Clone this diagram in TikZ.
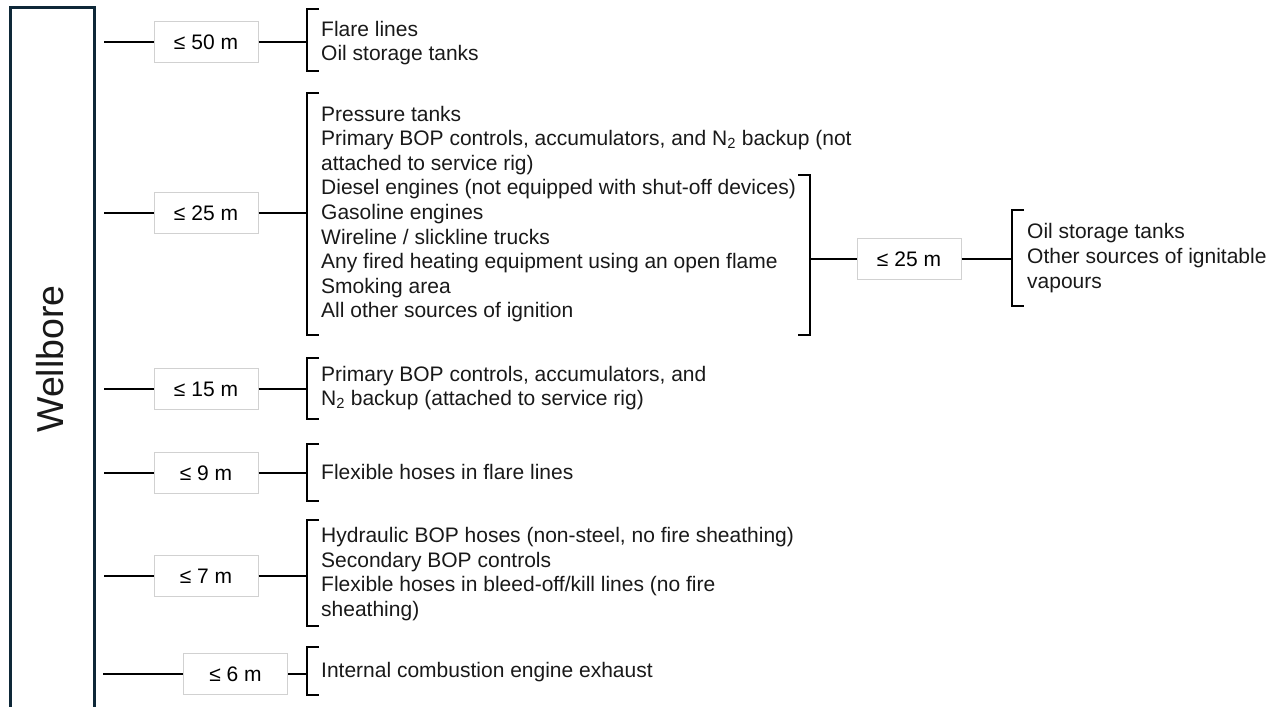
\documentclass[tikz,border=0pt]{standalone}
\usepackage{fontspec}
\setmainfont{Liberation Sans}
\begin{document}
\begin{tikzpicture}[x=1pt,y=-1pt,
  conn/.style={line width=1.8pt, black},
  brk/.style={line width=1.8pt, black},
  dbox/.style={draw=black!18, fill=white, line width=1pt, minimum width=104pt, minimum height=41pt, inner sep=0pt, font=\fontsize{21}{24}\selectfont},
  items/.style={anchor=west, align=left, inner sep=0pt, font=\fontsize{21}{24.6}\selectfont, text=black!90},
  wbframe/.style={draw={rgb,255:red,14;green,40;blue,56}, line width=3pt}]
\useasboundingbox (0,0) rectangle (1278,707);
\clip (0,0) rectangle (1278,707);
% wellbore
\draw[wbframe] (10.5,7) rectangle (94.5,730);
\node[rotate=90, font=\fontsize{37.5}{42}\selectfont, text=black!90] (wb) at (50,359) {Wellbore};
% row 1
\coordinate (s1) at (104,42);
\coordinate (k1) at (307,42);
\node[dbox] (b1) at (206,42) {≤ 50 m};
\draw[conn] (s1) -- (b1.west);
\draw[conn] (b1.east) -- (k1);
\draw[brk] (319,9) -- (307,9) -- (307,71) -- (319,71);
\node[items] (t1) at (321,43) {Flare lines\\Oil storage tanks};
% row 2
\coordinate (s2) at (104,213);
\coordinate (k2) at (307,213);
\node[dbox] (b2) at (206,213) {≤ 25 m};
\draw[conn] (s2) -- (b2.west);
\draw[conn] (b2.east) -- (k2);
\draw[brk] (319,93) -- (307,93) -- (307,335) -- (319,335);
\node[items] (t2) at (321,214) {Pressure tanks\\Primary BOP controls, accumulators, and N\textsubscript{2} backup (not\\attached to service rig)\\Diesel engines (not equipped with shut-off devices)\\Gasoline engines\\Wireline / slickline trucks\\Any fired heating equipment using an open flame\\Smoking area\\All other sources of ignition};
% right branch
\draw[brk] (798,175) -- (810,175) -- (810,335) -- (798,335);
\coordinate (kr) at (810,259);
\coordinate (kr2) at (1012,259);
\node[dbox] (br) at (909,259) {≤ 25 m};
\draw[conn] (kr) -- (br.west);
\draw[conn] (br.east) -- (kr2);
\draw[brk] (1024,210) -- (1012,210) -- (1012,306) -- (1024,306);
\node[items] (tr) at (1027,258) {Oil storage tanks\\Other sources of ignitable\\vapours};
% row 3
\coordinate (s3) at (104,389);
\coordinate (k3) at (307,389);
\node[dbox] (b3) at (206,389) {≤ 15 m};
\draw[conn] (s3) -- (b3.west);
\draw[conn] (b3.east) -- (k3);
\draw[brk] (319,358) -- (307,358) -- (307,419) -- (319,419);
\node[items] (t3) at (321,388) {Primary BOP controls, accumulators, and\\N\textsubscript{2} backup (attached to service rig)};
% row 4
\coordinate (s4) at (104,473);
\coordinate (k4) at (307,473);
\node[dbox] (b4) at (206,473) {≤ 9 m};
\draw[conn] (s4) -- (b4.west);
\draw[conn] (b4.east) -- (k4);
\draw[brk] (319,444) -- (307,444) -- (307,501) -- (319,501);
\node[items] (t4) at (321,472) {Flexible hoses in flare lines};
% row 5
\coordinate (s5) at (104,576);
\coordinate (k5) at (307,576);
\node[dbox] (b5) at (206,576) {≤ 7 m};
\draw[conn] (s5) -- (b5.west);
\draw[conn] (b5.east) -- (k5);
\draw[brk] (319,520) -- (307,520) -- (307,626) -- (319,626);
\node[items] (t5) at (321,574) {Hydraulic BOP hoses (non-steel, no fire sheathing)\\Secondary BOP controls\\Flexible hoses in bleed-off/kill lines (no fire\\sheathing)};
% row 6
\coordinate (s6) at (103,674);
\coordinate (k6) at (307,674);
\node[dbox] (b6) at (235.5,674) {≤ 6 m};
\draw[conn] (s6) -- (b6.west);
\draw[conn] (b6.east) -- (k6);
\draw[brk] (319,647) -- (307,647) -- (307,695) -- (319,695);
\node[items] (t6) at (321,672) {Internal combustion engine exhaust};
\end{tikzpicture}
\end{document}
